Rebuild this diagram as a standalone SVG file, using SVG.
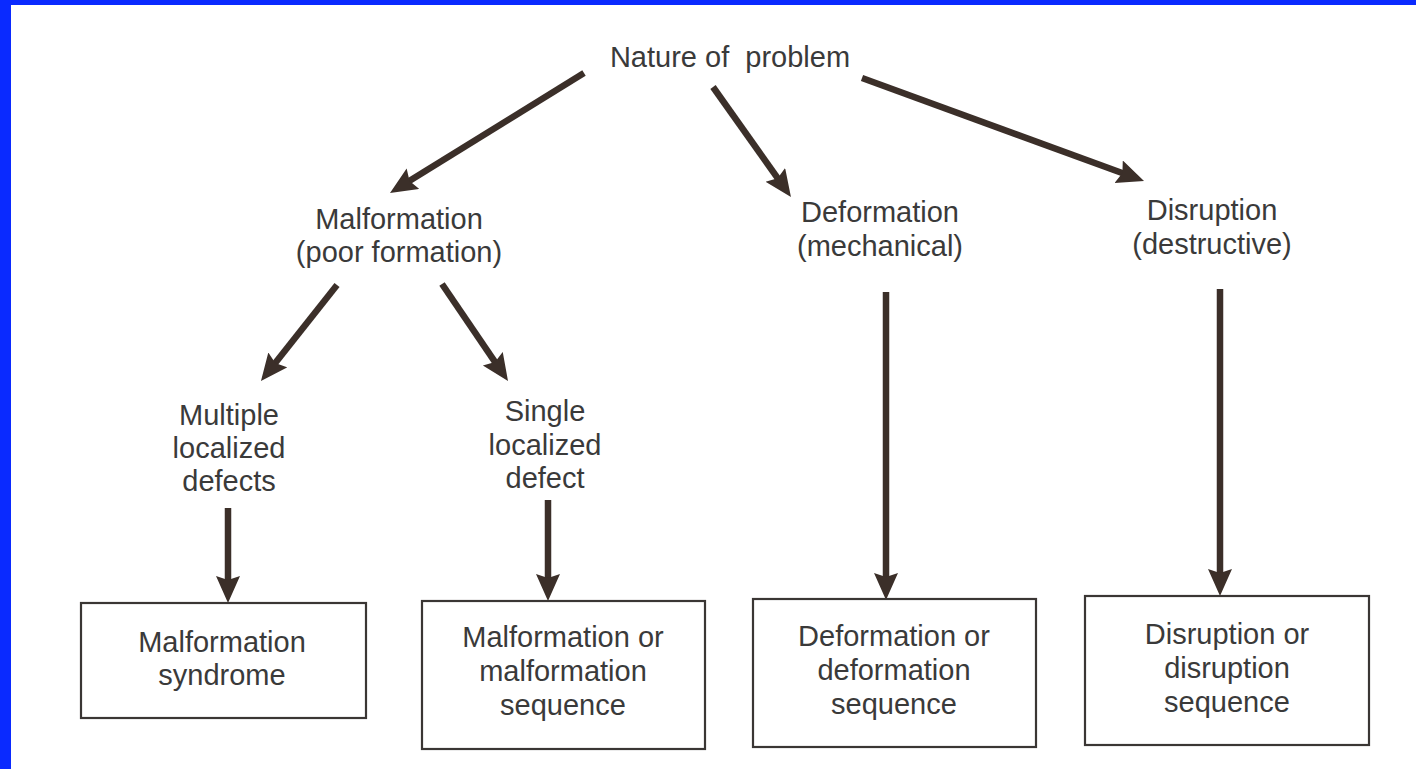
<svg xmlns="http://www.w3.org/2000/svg" width="1416" height="769" viewBox="0 0 1416 769">
<style>
text{font-family:"Liberation Sans",Arial,sans-serif;font-size:29px;fill:#3a3a3a;text-anchor:middle}
.box{fill:none;stroke:#3a3634;stroke-width:2.2}
.arr{stroke:#3b2f29;stroke-width:6.5;fill:none;marker-end:url(#ah)}
</style>
<defs>
<marker id="ah" markerUnits="userSpaceOnUse" markerWidth="32" markerHeight="26" refX="11" refY="12" orient="auto">
<path d="M0,0 L27,12 L0,24 L4,12 z" fill="#3b2f29"/>
</marker>
</defs>
<rect x="0" y="0" width="1416" height="769" fill="#ffffff"/>
<rect x="0" y="0" width="1416" height="5" fill="#0a2aff"/>
<rect x="0" y="0" width="11" height="769" fill="#0a2aff"/>

<g id="connectors">
<line class="arr" x1="584" y1="73" x2="403.6" y2="184.6"/>
<line class="arr" x1="713" y1="87" x2="781.7" y2="183.9"/>
<line class="arr" x1="862" y1="78" x2="1129" y2="175.5"/>
<line class="arr" x1="337" y1="285" x2="270.9" y2="368.5"/>
<line class="arr" x1="442" y1="284" x2="499" y2="367.8"/>
<line class="arr" x1="228" y1="508" x2="228" y2="587"/>
<line class="arr" x1="548" y1="500" x2="548" y2="585"/>
<line class="arr" x1="886" y1="292" x2="886" y2="584"/>
<line class="arr" x1="1220" y1="289" x2="1220" y2="580"/>
</g>

<g id="nature">
<text x="730" y="67" xml:space="preserve" style="white-space:pre">Nature of  problem</text>
</g>
<g id="malformation">
<text x="399" y="229">Malformation</text>
<text x="399" y="262">(poor formation)</text>
</g>
<g id="deformation">
<text x="880" y="222">Deformation</text>
<text x="880" y="256">(mechanical)</text>
</g>
<g id="disruption">
<text x="1212" y="220">Disruption</text>
<text x="1212" y="254">(destructive)</text>
</g>
<g id="multiple">
<text x="229" y="425">Multiple</text>
<text x="229" y="458">localized</text>
<text x="229" y="491">defects</text>
</g>
<g id="single">
<text x="545" y="421">Single</text>
<text x="545" y="455">localized</text>
<text x="545" y="488">defect</text>
</g>
<g id="box-syndrome">
<rect class="box" x="81" y="603" width="285" height="115"/>
<text x="222" y="652">Malformation</text>
<text x="222" y="685">syndrome</text>
</g>
<g id="box-malformation-seq">
<rect class="box" x="422" y="601" width="283" height="148"/>
<text x="563" y="647">Malformation or</text>
<text x="563" y="681">malformation</text>
<text x="563" y="715">sequence</text>
</g>
<g id="box-deformation-seq">
<rect class="box" x="753" y="599" width="283" height="148"/>
<text x="894" y="646">Deformation or</text>
<text x="894" y="680">deformation</text>
<text x="894" y="714">sequence</text>
</g>
<g id="box-disruption-seq">
<rect class="box" x="1085" y="596" width="284" height="149"/>
<text x="1227" y="644">Disruption or</text>
<text x="1227" y="678">disruption</text>
<text x="1227" y="712">sequence</text>
</g>
</svg>
